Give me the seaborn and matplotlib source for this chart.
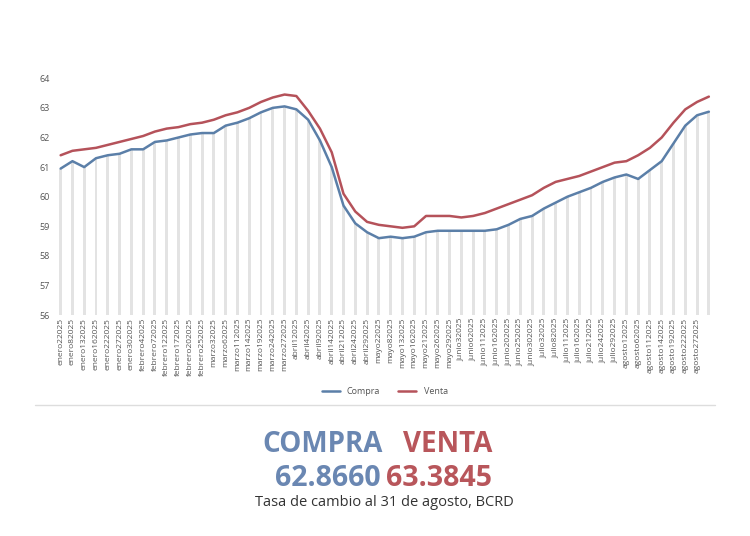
import matplotlib
matplotlib.use("Agg")
import matplotlib.pyplot as plt
import seaborn as sns
import pandas as pd
import numpy as np

fechas = ["enero22025","enero82025","enero132025","enero162025","enero222025","enero272025","enero302025",
"febrero42025","febrero72025","febrero122025","febrero172025","febrero202025","febrero252025",
"marzo32025","marzo62025","marzo112025","marzo142025","marzo192025","marzo242025","marzo272025",
"abril12025","abril42025","abril92025","abril142025","abril212025","abril242025","abril292025",
"mayo22025","mayo82025","mayo132025","mayo162025","mayo212025","mayo262025","mayo292025",
"junio32025","junio62025","junio112025","junio162025","junio202025","junio252025","junio302025",
"julio32025","julio82025","julio112025","julio162025","julio212025","julio242025","julio292025",
"agosto12025","agosto62025","agosto112025","agosto142025","agosto192025","agosto222025","agosto272025","agosto292025"]
compra = [60.95,61.2,61.0,61.3,61.4,61.45,61.6,61.6,61.85,61.9,62.0,62.1,62.15,62.15,62.4,62.5,62.65,62.85,63.0,63.05,
62.95,62.6,61.9,61.0,59.7,59.1,58.8,58.6,58.65,58.6,58.65,58.8,58.85,58.85,58.85,58.85,58.85,58.9,59.05,59.25,59.35,
59.6,59.8,60.0,60.15,60.3,60.5,60.65,60.75,60.6,60.9,61.2,61.8,62.4,62.75,62.87]
venta = [61.4,61.55,61.6,61.65,61.75,61.85,61.95,62.05,62.2,62.3,62.35,62.45,62.5,62.6,62.75,62.85,63.0,63.2,63.35,63.45,
63.4,62.9,62.3,61.5,60.1,59.5,59.15,59.05,59.0,58.95,59.0,59.35,59.35,59.35,59.3,59.35,59.45,59.6,59.75,59.9,60.05,
60.3,60.5,60.6,60.7,60.85,61.0,61.15,61.2,61.4,61.65,62.0,62.5,62.95,63.2,63.38]
yticks = [56,57,58,59,60,61,62,63,64]

df = pd.DataFrame({"fecha": fechas, "Compra": compra, "Venta": venta})
sns.set_style("white")
plt.rcParams['font.family'] = ['Open Sans', 'DejaVu Sans']
fig = plt.figure(figsize=(7.5, 5.36), dpi=100)
ax = fig.add_axes([0.073, 0.412, 0.88, 0.442])
sns.barplot(data=df, x="fecha", y="Compra", color="#e3e3e3", linewidth=0, ax=ax, width=0.25)
x = np.arange(len(fechas))
sns.lineplot(x=x, y=df["Compra"], color="#5b7fa8", lw=1.8, ax=ax, label="Compra")
sns.lineplot(x=x, y=df["Venta"], color="#b5525a", lw=1.8, ax=ax, label="Venta")
ax.set_ylim(56, 64)
ax.set_yticks(yticks)
ax.set_xlim(-0.5, len(fechas) - 0.5)
ax.set_xticks(x[:-1])
ax.set_xticklabels(fechas[:-1], rotation=90, fontsize=6, color="#555555")
ax.tick_params(axis="y", labelsize=6.5, colors="#555555", length=0)
ax.tick_params(axis="x", length=0, pad=2)
ax.set_xlabel(""); ax.set_ylabel("")
for s in ax.spines.values():
    s.set_visible(False)
ax.legend(loc="upper center", bbox_to_anchor=(0.5, -0.27), ncol=2, frameon=False, fontsize=6.5,
          handlelength=2, labelcolor="#555555")
fig.add_artist(plt.Line2D([0.047, 0.953], [1-405/536, 1-405/536], color="#dddddd", lw=1))
fig.text(0.51, 1-445/536, "COMPRA", ha="right", va="center", fontsize=20, fontweight="bold", color="#6a87b2")
fig.text(0.537, 1-445/536, "VENTA", ha="left", va="center", fontsize=20, fontweight="bold", color="#b8565b")
fig.text(0.507, 1-478/536, "62.8660", ha="right", va="center", fontsize=20.5, fontweight="bold", color="#6a87b2")
fig.text(0.515, 1-478/536, "63.3845", ha="left", va="center", fontsize=20.5, fontweight="bold", color="#b8565b")
fig.text(0.513, 1-503/536, "Tasa de cambio al 31 de agosto, BCRD", ha="center", va="center", fontsize=10.5, color="#333333")
fig.savefig("out.png", dpi=100, facecolor="white")
